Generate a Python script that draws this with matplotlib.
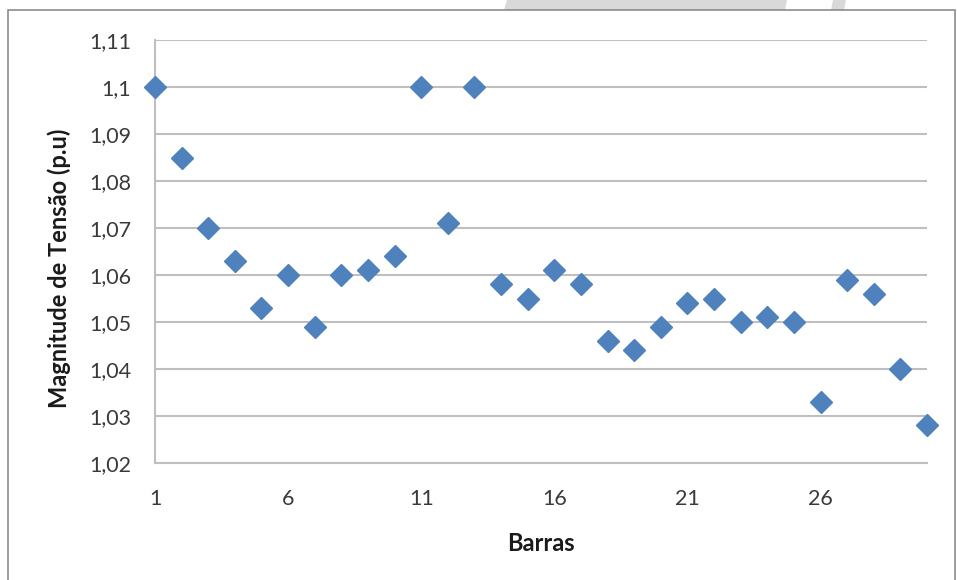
import matplotlib
matplotlib.use("Agg")
import matplotlib.pyplot as plt
from matplotlib.patches import Polygon, Rectangle
from matplotlib.ticker import FuncFormatter

plt.rcParams['font.family'] = ['Lato', 'DejaVu Sans']

barras = list(range(1, 31))
tensao = [1.100, 1.085, 1.070, 1.063, 1.053, 1.060, 1.049, 1.060, 1.061, 1.064,
          1.100, 1.071, 1.100, 1.058, 1.055, 1.061, 1.058, 1.046, 1.044, 1.049,
          1.054, 1.055, 1.050, 1.051, 1.050, 1.033, 1.059, 1.056, 1.040, 1.028]
x_ticks = [1, 6, 11, 16, 21, 26]
y_ticks = [1.02, 1.03, 1.04, 1.05, 1.06, 1.07, 1.08, 1.09, 1.10, 1.11]

W, H = 957, 580
fig = plt.figure(figsize=(W / 100, H / 100), dpi=100)
fig.patch.set_facecolor('white')

# watermark shapes at the top
fig.patches.append(Polygon([[507 / W, 1.0], [787 / W, 1.0], [785 / W, 1 - 10 / H], [504 / W, 1 - 10 / H]],
                           closed=True, transform=fig.transFigure, facecolor='#d9d9d9', edgecolor='none', zorder=0))
fig.patches.append(Polygon([[833 / W, 1.0], [846 / W, 1.0], [844 / W, 1 - 10 / H], [831 / W, 1 - 10 / H]],
                           closed=True, transform=fig.transFigure, facecolor='#d9d9d9', edgecolor='none', zorder=0))
# chart frame
fig.patches.append(Rectangle((8 / W, -0.05), (955 - 8) / W, 1.05 - 10 / H, transform=fig.transFigure,
                             facecolor='none', edgecolor='#8c8c8c', linewidth=1.2, zorder=1))

x0, x1, y0, y1 = 155, 927, 40, 463
ax = fig.add_axes([x0 / W, 1 - y1 / H, (x1 - x0) / W, (y1 - y0) / H])
ax.set_facecolor('none')
ax.set_xlim(1, 30)
ax.set_ylim(1.02, 1.11)
ax.set_yticks(y_ticks)
ax.set_xticks(x_ticks)

def fmt(v, pos):
    s = ('%.2f' % v).rstrip('0').rstrip('.')
    return s.replace('.', ',')

ax.yaxis.set_major_formatter(FuncFormatter(fmt))
ax.grid(axis='y', color='#bfbfbf', linewidth=1.5, zorder=0)
ax.set_axisbelow(True)
for side in ['top', 'right']:
    ax.spines[side].set_visible(False)
for side in ['left', 'bottom']:
    ax.spines[side].set_color('#bfbfbf')
    ax.spines[side].set_linewidth(1.5)
ax.tick_params(length=0, labelsize=15.5, colors='#3a3a3a')
ax.tick_params(axis='x', pad=19)
ax.tick_params(axis='y', pad=17)

ax.plot(barras, tensao, linestyle='none', marker='D', markersize=11,
        color='#4f81bd', markeredgecolor='#4f81bd', clip_on=False, zorder=3)

ax.set_xlabel('Barras', fontsize=17, fontweight='bold', color='#1a1a1a')
ax.set_ylabel('Magnitude de Tensão (p.u)', fontsize=17, fontweight='bold', color='#1a1a1a')
ax.xaxis.set_label_coords((541 - x0) / (x1 - x0), (y1 - 532) / (y1 - y0))
ax.yaxis.set_label_coords((71 - x0) / (x1 - x0), 0.5 - 17 / (y1 - y0))

fig.savefig('out.png', dpi=100)
